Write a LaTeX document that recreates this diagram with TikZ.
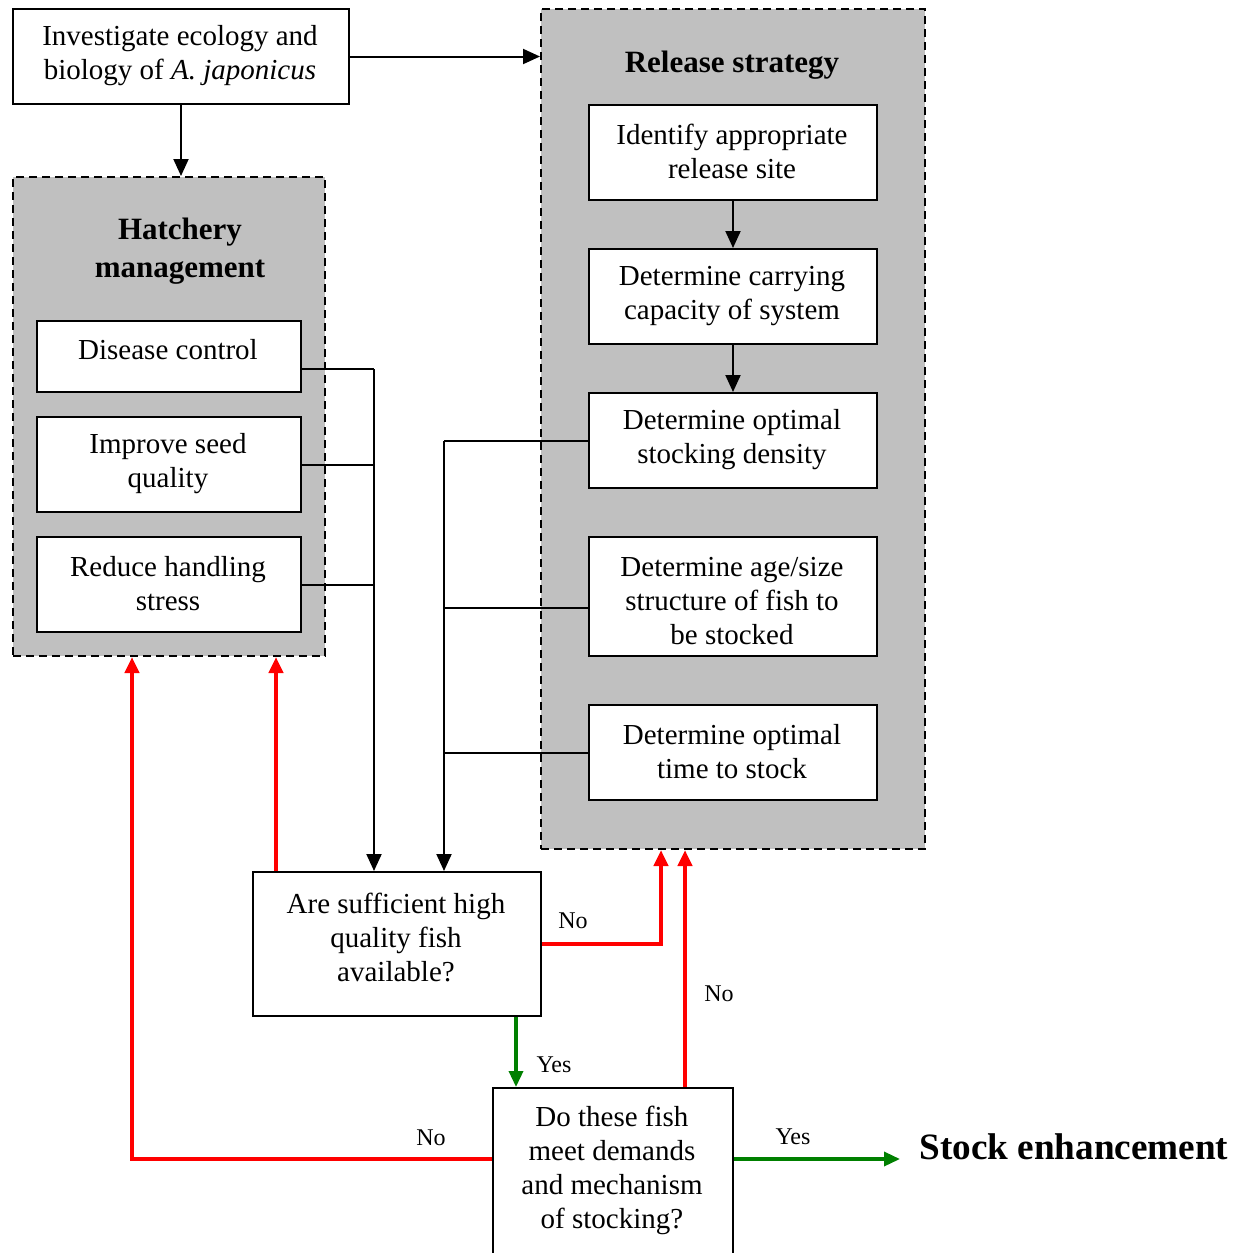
\documentclass[tikz,border=0pt]{standalone}
\usepackage{fontspec}
\setmainfont{Liberation Serif}
\usetikzlibrary{arrows.meta}
\definecolor{panelgray}{HTML}{C0C0C0}
\definecolor{nored}{HTML}{FF0000}
\definecolor{yesgreen}{HTML}{008000}

\begin{document}
\begin{tikzpicture}[x=0.5pt,y=-0.5pt,
  box/.style={draw=black, line width=1pt, fill=white, rectangle, inner sep=0pt, anchor=north west},
  panel/.style={draw=black, line width=1pt, dash pattern=on 4pt off 2.5pt, fill=panelgray, rectangle, inner sep=0pt, anchor=north west},
  txt/.style={align=center, font=\fontsize{14.5}{17}\selectfont, inner sep=0pt},
  title/.style={align=center, font=\fontsize{15.5}{19}\selectfont\bfseries, inner sep=0pt},
  lbl/.style={font=\fontsize{12}{14}\selectfont, inner sep=0pt},
  link/.style={draw=black, line width=1pt},
  flow/.style={link, -{Triangle[length=8.5pt,width=7.5pt]}},
  noarr/.style={draw=nored, line width=2pt, -{Triangle[length=8pt,width=7pt]}},
  yesarr/.style={draw=yesgreen, line width=1.7pt, -{Triangle[length=8pt,width=7pt]}},
]
\path[use as bounding box, fill=white] (0,0) rectangle (1245,1253);

% grey panels
\node[panel, minimum width=156pt, minimum height=239.5pt] (hat) at (12,176) {};
\node[panel, minimum width=192pt, minimum height=420pt] (rel) at (540,8) {};
\node[title] (hatT) at (180,251) {Hatchery\\management};
\node[title] (relT) at (732,65) {Release strategy};

% boxes
\node[box, minimum width=168pt, minimum height=47.5pt] (inv) at (12,8) {};
\node[box, minimum width=132pt, minimum height=35.5pt] (dc) at (36,320) {};
\node[box, minimum width=132pt, minimum height=47.5pt] (isq) at (36,416) {};
\node[box, minimum width=132pt, minimum height=47.5pt] (rhs) at (36,536) {};
\node[box, minimum width=144pt, minimum height=47.5pt] (ids) at (588,104) {};
\node[box, minimum width=144pt, minimum height=47.5pt] (dcc) at (588,248) {};
\node[box, minimum width=144pt, minimum height=47.5pt] (dos) at (588,392) {};
\node[box, minimum width=144pt, minimum height=59.5pt] (das) at (588,536) {};
\node[box, minimum width=144pt, minimum height=47.5pt] (dot) at (588,704) {};
\node[box, minimum width=144pt, minimum height=72pt] (q1) at (252,871) {};
\node[box, minimum width=120pt, minimum height=106.5pt] (q2) at (492,1087) {};

% box texts
\node[txt] (invT) at (180,56) {Investigate ecology and\\biology of \textit{A. japonicus}};
\node[txt] (dcT) at (168,350) {Disease control};
\node[txt] (isqT) at (168,464) {Improve seed\\quality};
\node[txt] (rhsT) at (168,584) {Reduce handling\\stress};
\node[txt] (idsT) at (732,151) {Identify appropriate\\release site};
\node[txt] (dccT) at (732,296) {Determine carrying\\capacity of system};
\node[txt] (dosT) at (732,440) {Determine optimal\\stocking density};
\node[txt] (dasT) at (732,601) {Determine age/size\\structure of fish to\\be stocked};
\node[txt] (dotT) at (732,752) {Determine optimal\\time to stock};
\node[txt] (q1T) at (396,937) {Are sufficient high\\quality fish\\available?};
\node[txt] (q2T) at (612,1170) {Do these fish\\meet demands\\and mechanism\\of stocking?};
\node[title, font=\fontsize{18.6}{22}\selectfont\bfseries, anchor=west, inner xsep=9.5pt] (stock) at (900,1147) {Stock enhancement};

% black flow
\draw[flow] (inv.east) -- (inv.east -| rel.west);
\draw[flow] (inv.south) -- (inv.south |- hat.north);
\draw[flow] (ids.south) -- (dcc.north);
\draw[flow] (dcc.south) -- (dos.north);

% hatchery collector
\coordinate (busL) at ([xshift=36pt,yshift=-6.25pt]dc.east);
\draw[link] ([yshift=-6.25pt]dc.east) -- (busL);
\draw[link] (isq.east) -- (isq.east -| busL);
\draw[link] (rhs.east) -- (rhs.east -| busL);
\draw[flow] (busL) -- (busL |- q1.north);

% release collector
\coordinate (busR) at ([xshift=-72pt]dos.west);
\draw[link] (dos.west) -- (busR);
\draw[link] ([yshift=-5.75pt]das.west) -- ([yshift=-5.75pt]das.west -| busR);
\draw[link] (dot.west) -- (dot.west -| busR);
\draw[flow] (busR) -- (busR |- q1.north);

% "No" feedback
\coordinate (hatIn1) at ([xshift=60pt]hat.south west);
\coordinate (hatIn2) at ([xshift=132pt]hat.south west);
\coordinate (q2L) at ([yshift=-36pt]q2.north west);
\coordinate (relIn1) at ([xshift=-36pt]rel.south);
\coordinate (relIn2) at ([xshift=-24pt]rel.south);
\draw[noarr] (hatIn2 |- q1.north) -- (hatIn2);
\draw[noarr] (q2L) -| (hatIn1);
\draw[noarr] (q1.east) -| (relIn1);
\draw[noarr] (relIn2 |- q2.north) -- (relIn2);

% "Yes" flow
\coordinate (q1Out) at ([xshift=132pt]q1.south west);
\coordinate (q2R) at ([yshift=-36pt]q2.north east);
\draw[yesarr] (q1Out) -- (q1Out |- q2.north);
\draw[yesarr] (q2R) -- (q2R -| stock.west);

% branch labels
\node[lbl] (noA) at (573,921) {No};
\node[lbl] (noB) at (719,994) {No};
\node[lbl] (noC) at (431,1138) {No};
\node[lbl] (yesA) at (554,1065) {Yes};
\node[lbl] (yesB) at (793,1137) {Yes};
\end{tikzpicture}
\end{document}
